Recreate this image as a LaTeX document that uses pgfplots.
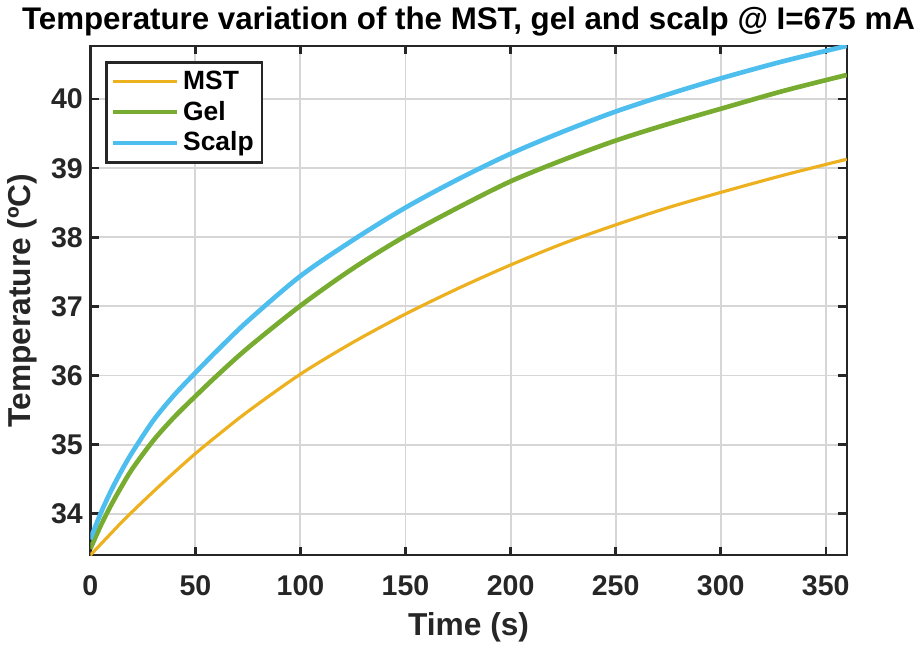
\documentclass[border=0pt]{standalone}
\usepackage{fontspec}
\setmainfont{Liberation Sans}
\usepackage{pgfplots}
\pgfplotsset{compat=1.18}

\definecolor{mstc}{rgb}{0.929,0.694,0.125}
\definecolor{gelc}{rgb}{0.466,0.674,0.188}
\definecolor{scalpc}{rgb}{0.301,0.745,0.933}
\definecolor{axc}{rgb}{0.15,0.15,0.15}

% time (s), temperature (C)
\usepackage{pgfplotstable}
\pgfplotstableread{
t   mst    gel    scalp
0   33.40  33.49  33.63
5   33.56  33.83  34.01
10  33.72  34.13  34.34
15  33.88  34.40  34.63
20  34.03  34.65  34.89
30  34.32  35.06  35.35
40  34.60  35.40  35.72
50  34.87  35.70  36.04
60  35.12  35.99  36.35
75  35.48  36.40  36.79
100 36.02  37.01  37.44
125 36.48  37.55  37.96
150 36.89  38.02  38.43
175 37.26  38.43  38.84
200 37.60  38.81  39.21
225 37.91  39.12  39.53
250 38.18  39.40  39.82
275 38.43  39.64  40.07
300 38.65  39.86  40.30
330 38.90  40.12  40.55
360 39.13  40.35  40.77
}\tempdata

\begin{document}
\begin{tikzpicture}
\begin{axis}[
    scale only axis,
    width=358pt, height=241pt,
    xmin=0, xmax=360,
    ymin=33.4, ymax=40.77,
    xtick={0,50,...,350},
    ytick={34,35,...,40},
    tick align=inside,
    major tick length=4pt,
    grid=major,
    grid style={black!16, line width=0.9pt},
    axis line style={line width=1.2pt, axc},
    tick style={line width=1.2pt, axc},
    /pgf/number format/assume math mode=true,
    ticklabel style={font=\fontsize{13.5}{15}\selectfont\bfseries, text=axc},
    xticklabel style={yshift=-6pt},
    xlabel={Time (s)},
    ylabel={Temperature (ºC)},
    label style={font=\fontsize{15}{17}\selectfont\bfseries, text=axc},
    xlabel style={yshift=-1pt},
    title={Temperature variation of the MST, gel and scalp @ I=675 mA},
    title style={font=\fontsize{14.8}{16}\selectfont\bfseries, yshift=-5pt},
    legend style={at={(0.02,0.97)}, anchor=north west,
        draw=axc, line width=1.2pt,
        font=\fontsize{12.5}{14}\selectfont\bfseries,
        inner xsep=2pt, inner ysep=2pt, row sep=0pt},
    legend cell align=left,
    legend image code/.code={\draw[#1] (0pt,0pt) -- (30pt,0pt);},
]
\addplot[mstc, line width=1.5pt, smooth] table[x=t, y=mst] {\tempdata};
\addplot[gelc, line width=2.2pt, smooth] table[x=t, y=gel] {\tempdata};
\addplot[scalpc, line width=2.2pt, smooth] table[x=t, y=scalp] {\tempdata};
\legend{MST, Gel, Scalp}
\end{axis}
\end{tikzpicture}
\end{document}
